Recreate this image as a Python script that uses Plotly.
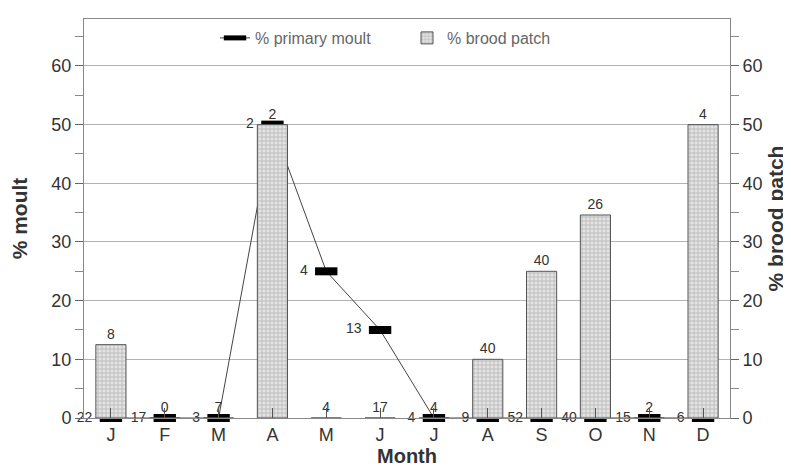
import plotly.graph_objects as go

months = ["J", "F", "M", "A", "M", "J", "J", "A", "S", "O", "N", "D"]
moult_pct = [0, 0, 0, 50, 25, 15, 0, 0, 0, 0, 0, 0]
moult_n = ["22", "17", "3", "2", "4", "13", "4", "9", "52", "40", "15", "6"]
brood_pct = [12.5, 0, 0, 50, 0, 0, 0, 10, 25, 34.6, 0, 50]
brood_n = ["8", "0", "7", "2", "4", "17", "4", "40", "40", "26", "2", "4"]
yticks = [0, 10, 20, 30, 40, 50, 60]

x = list(range(len(months)))
FONT = "Liberation Sans, Arial, sans-serif"
TXT = "#333333"

fig = go.Figure()
# moult line + markers (drawn beneath the bars)
fig.add_trace(go.Scatter(
    x=x, y=moult_pct, name="% primary moult", yaxis="y",
    mode="lines+markers",
    line=dict(color="#444444", width=1),
    marker=dict(symbol="line-ew", size=16, color="black",
                line=dict(color="black", width=8)),
    cliponaxis=False,
))
# brood patch bars
fig.add_trace(go.Bar(
    x=x, y=brood_pct, name="% brood patch", yaxis="y2",
    text=brood_n, textposition="outside",
    textfont=dict(size=14, color=TXT, family=FONT),
    width=0.56,
    marker=dict(color="#cccccc",
                line=dict(color="#555555", width=1),
                pattern=dict(shape="+", fgcolor="#858585", bgcolor="#e4e4e4",
                             size=4, solidity=0.35)),
    cliponaxis=False,
))
# moult sample sizes (on top of bars)
fig.add_trace(go.Scatter(
    x=x, y=moult_pct, yaxis="y3", showlegend=False,
    mode="markers+text", text=moult_n, textposition="middle left",
    textfont=dict(size=14, color=TXT, family=FONT),
    marker=dict(size=28, color="rgba(0,0,0,0)"),
    hoverinfo="skip", cliponaxis=False,
))

axis_common = dict(
    range=[0, 68], tickvals=yticks, ticks="outside", ticklen=8, tickcolor="#666",
    tickfont=dict(size=18, color=TXT, family=FONT),
    showline=True, linecolor="#888", linewidth=1,
    minor=dict(dtick=5, ticks="outside", ticklen=8, tickcolor="#888", showgrid=False),
    zeroline=False, automargin=False,
)

fig.update_layout(
    width=791, height=466,
    margin=dict(l=76, r=69, t=11, b=56),
    paper_bgcolor="white", plot_bgcolor="white",
    font=dict(family=FONT, color=TXT),
    xaxis=dict(
        range=[-0.5, 11.5], tickvals=x, ticktext=months,
        ticks="inside", ticklen=10, tickcolor="#555",
        tickfont=dict(size=18, color=TXT, family=FONT),
        showline=True, mirror=True, linecolor="#888", linewidth=1,
        showgrid=False, zeroline=False, automargin=False,
        title=dict(text="<b>Month</b>", font=dict(size=20, color=TXT, family=FONT), standoff=2),
    ),
    yaxis=dict(
        **axis_common,
        showgrid=True, gridcolor="#b4b4b4", gridwidth=1,
        title=dict(text="<b>% moult</b>", font=dict(size=21, color=TXT, family=FONT), standoff=20),
    ),
    yaxis2=dict(
        **axis_common,
        overlaying="y", side="right", showgrid=False,
        title=dict(text="<b>% brood patch</b>", font=dict(size=21, color=TXT, family=FONT), standoff=6),
    ),
    yaxis3=dict(
        range=[0, 68], overlaying="y", visible=False, automargin=False,
    ),
    legend=dict(
        orientation="h", x=0.5, xanchor="center", y=0.995, yanchor="top",
        font=dict(size=16, color="#666", family=FONT),
        bgcolor="rgba(255,255,255,0)", entrywidth=147,
    ),
    showlegend=True,
)

fig.write_html("out.html")
